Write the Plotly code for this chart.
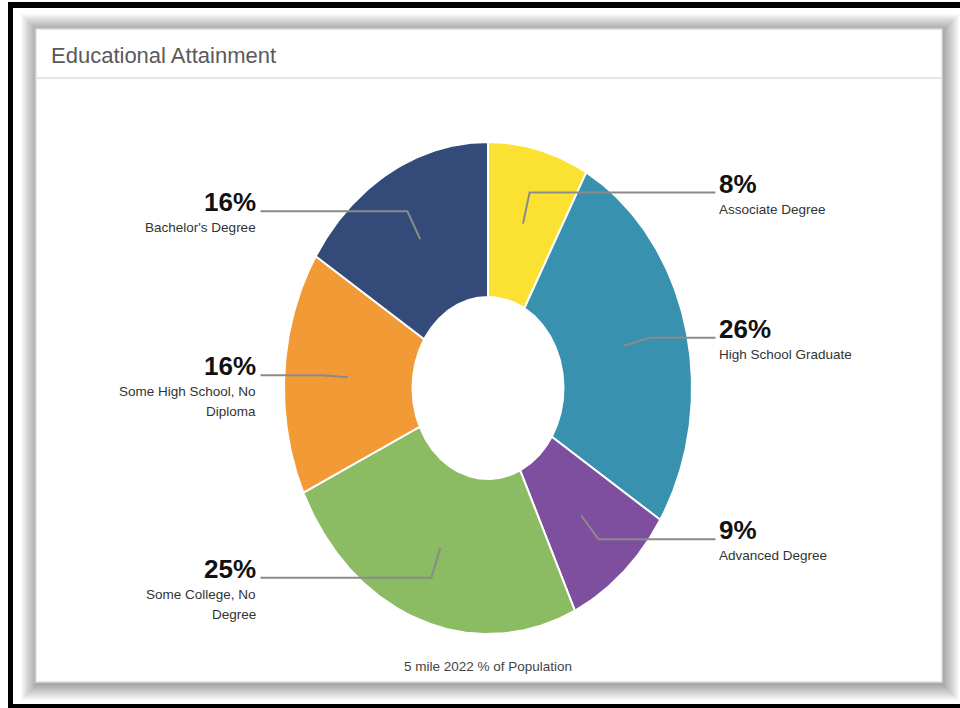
import math
import plotly.graph_objects as go

# ---------------- data ----------------
categories = ["Associate Degree", "High School Graduate", "Advanced Degree",
              "Some College, No Degree", "Some High School, No Diploma", "Bachelor's Degree"]
label_lines = [["Associate Degree"], ["High School Graduate"], ["Advanced Degree"],
               ["Some College, No", "Degree"], ["Some High School, No", "Diploma"],
               ["Bachelor's Degree"]]
values = [8, 26, 9, 25, 16, 16]
colors = ["#FBE232", "#3891AE", "#7F4F9F", "#8BBB62", "#F29A35", "#344B7A"]
title_text = "Educational Attainment"
subtitle_text = "5 mile 2022 % of Population"

# ---------------- layout constants ----------------
W, H = 960, 708
CX, CY, RX, RY = 488, 388, 204, 246   # donut centre / radii in pixels
HOLE = 0.37
R_START, R_ELBOW, LABEL_X = 0.69, 0.82, 1.115
FONT = "Liberation Sans, Arial, Helvetica, sans-serif"


def px(x):
    return x / W


def py(y):
    return 1 - y / H


fig = go.Figure()

# ---------------- donut wedges ----------------
total = sum(values)
cum = 0.0
mids = []
for cat, v, col in zip(categories, values, colors):
    a0 = cum / total * 2 * math.pi
    a1 = (cum + v) / total * 2 * math.pi
    cum += v
    mids.append((a0 + a1) / 2)
    n = max(8, int(v * 6))
    outer = [(math.sin(a0 + (a1 - a0) * i / n), math.cos(a0 + (a1 - a0) * i / n)) for i in range(n + 1)]
    inner = [(HOLE * x, HOLE * y) for x, y in reversed(outer)]
    pts = outer + inner + [outer[0]]
    fig.add_trace(go.Scatter(
        x=[p[0] for p in pts], y=[p[1] for p in pts],
        mode="lines", fill="toself", fillcolor=col,
        line=dict(color="white", width=2),
        name=cat, hoverinfo="name", showlegend=False,
    ))

# ---------------- leader lines and labels ----------------
annotations = []
for cat, v, lines, m in zip(categories, values, label_lines, mids):
    sx, sy = R_START * math.sin(m), R_START * math.cos(m)
    ex, ey = R_ELBOW * math.sin(m), R_ELBOW * math.cos(m)
    right = math.sin(m) > 0
    lx = LABEL_X if right else -LABEL_X
    fig.add_trace(go.Scatter(
        x=[sx, ex, lx], y=[sy, ey, ey], mode="lines",
        line=dict(color="#8a8a8a", width=2),
        hoverinfo="skip", showlegend=False,
    ))
    anchor = "left" if right else "right"
    xs = 2 if right else -3
    annotations.append(dict(
        x=lx, y=ey, xref="x", yref="y", text=f"<b>{v}%</b>",
        showarrow=False, xanchor=anchor, yanchor="bottom", xshift=xs, yshift=-8,
        font=dict(family=FONT, size=26, color="#111111"),
    ))
    for i, ln in enumerate(lines):
        annotations.append(dict(
            x=lx, y=ey, xref="x", yref="y", text=ln,
            showarrow=False, xanchor=anchor, yanchor="top", xshift=xs,
            yshift=-7 - 20 * i,
            font=dict(family=FONT, size=13.5, color="#333333"),
        ))

# title and subtitle
annotations.append(dict(
    x=px(49), y=py(70), xref="paper", yref="paper", text=title_text,
    showarrow=False, xanchor="left", yanchor="bottom",
    font=dict(family=FONT, size=22, color="#5a5a5a"),
))
annotations.append(dict(
    x=px(CX), y=py(666), xref="paper", yref="paper", text=subtitle_text,
    showarrow=False, xanchor="center", yanchor="middle",
    font=dict(family=FONT, size=13.5, color="#444444"),
))

# ---------------- card, shadow, frame ----------------
shapes = []
CARD = (36, 29, 942, 682)
for k in range(16, 0, -1):
    shapes.append(dict(
        type="rect", xref="paper", yref="paper", layer="below",
        x0=px(CARD[0] - k + 1), x1=px(CARD[2] + k + 1),
        y0=py(CARD[3] + k + 2), y1=py(CARD[1] - k + 1),
        fillcolor="rgba(0,0,0,0.022)", line=dict(width=0),
    ))
shapes.append(dict(
    type="rect", xref="paper", yref="paper", layer="below",
    x0=px(CARD[0]), x1=px(CARD[2]), y0=py(CARD[3]), y1=py(CARD[1]),
    fillcolor="white", line=dict(color="#dcdcdc", width=1.5),
))
shapes.append(dict(
    type="line", xref="paper", yref="paper", layer="below",
    x0=px(CARD[0] + 1), x1=px(CARD[2] - 1), y0=py(78), y1=py(78),
    line=dict(color="#e4e4e4", width=2),
))
# black outer frame
shapes.append(dict(type="rect", xref="paper", yref="paper", layer="above",
                   x0=px(8), x1=px(W + 5), y0=py(8), y1=py(2),
                   fillcolor="black", line=dict(width=0)))
shapes.append(dict(type="rect", xref="paper", yref="paper", layer="above",
                   x0=px(8), x1=px(13), y0=py(H), y1=py(2),
                   fillcolor="black", line=dict(width=0)))
shapes.append(dict(type="rect", xref="paper", yref="paper", layer="above",
                   x0=px(8), x1=px(W + 5), y0=py(H + 2), y1=py(704),
                   fillcolor="black", line=dict(width=0)))

fig.update_layout(
    width=W, height=H,
    margin=dict(l=0, r=0, t=0, b=0),
    paper_bgcolor="white", plot_bgcolor="rgba(0,0,0,0)",
    xaxis=dict(range=[(0 - CX) / RX, (W - CX) / RX], visible=False, fixedrange=True),
    yaxis=dict(range=[(CY - H) / RY, CY / RY], visible=False, fixedrange=True),
    shapes=shapes, annotations=annotations,
    showlegend=False,
)

fig.write_html("out.html")
